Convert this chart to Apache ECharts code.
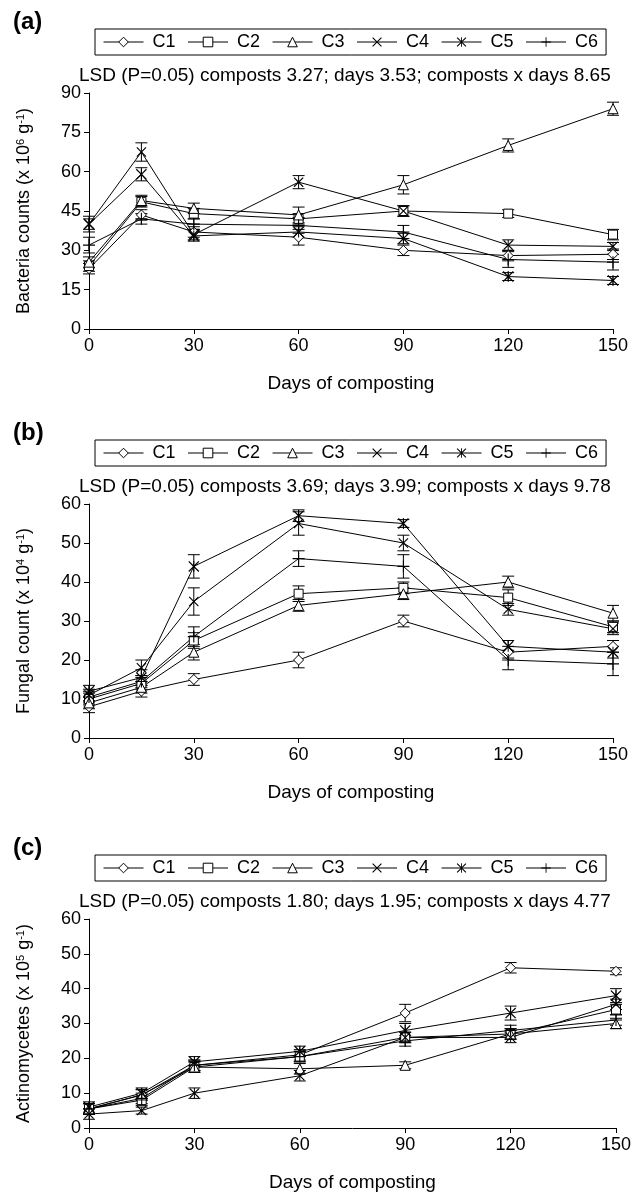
<!DOCTYPE html>
<html>
<head>
<meta charset="utf-8">
<script src="https://cdn.jsdelivr.net/npm/echarts@6/dist/echarts.min.js"></script>
<style>
  body { margin: 0; background: #fff; }
  #chart { width: 640px; height: 1194px; }
</style>
</head>
<body>
<div id="chart"></div>
<script>
// data
const days = [0, 15, 30, 60, 90, 120, 150];
const composts = ['C1', 'C2', 'C3', 'C4', 'C5', 'C6'];

// (a) bacteria counts, x 10^6 g-1
const bacteria = [
  [23, 43.5, 37, 35, 30, 28, 28.5],
  [24, 48.5, 44, 42, 45, 44, 36],
  [25.5, 49, 46, 43.5, 55, 70, 84],
  [40, 67.5, 36, 56, 45, 32, 31.5],
  [40, 59, 35.5, 37, 34.5, 20, 18.5],
  [32, 42, 40, 39.5, 37, 26.5, 25.5]
];
const bacteriaErr = [
  [2, 2, 2, 3, 2, 2, 2],
  [2, 2, 2, 2, 2, 1.5, 2],
  [2, 2, 2, 3, 3.5, 2.5, 2.5],
  [3, 3.5, 2, 2.5, 2, 2, 1.5],
  [2, 2.5, 2, 2, 2, 1.5, 1.5],
  [3, 2, 2, 3, 2.5, 3, 3]
];

// (b) fungal count, x 10^4 g-1
const fungi = [
  [8, 12, 15, 20, 30, 22, 23.5],
  [10, 14, 25, 37, 38.5, 36, 28.5],
  [9, 13, 22, 34, 37, 40, 32],
  [11, 18, 35, 55, 50, 33, 28],
  [12, 15.5, 44, 57, 55, 23.5, 22],
  [10.5, 14.5, 26, 46, 44, 20, 19]
];
const fungiErr = [
  [1.5, 1.5, 1.5, 2, 1.5, 1.5, 1.5],
  [1.5, 1.5, 2, 2, 1.5, 2, 1.5],
  [1.5, 1.5, 2, 1.5, 1.5, 1.5, 2],
  [1.5, 2, 3.5, 3, 2, 1.5, 1.5],
  [1.5, 2, 3, 1.5, 1, 1.5, 1.5],
  [1.5, 1.5, 2.5, 2, 3, 2.5, 3]
];

// (c) actinomycetes, x 10^5 g-1
const actino = [
  [5.5, 9.5, 18, 21, 33, 46, 45],
  [5.5, 8, 17.5, 20.5, 26, 27, 34],
  [5.5, 9.5, 17.5, 17, 18, 27, 30],
  [4, 5, 10, 15, 26, 26, 35.5],
  [6, 10, 19, 22, 28, 33, 38],
  [5.5, 8.5, 18, 20.5, 25, 28, 31]
];
const actinoErr = [
  [1.5, 1.5, 1.5, 1.5, 2.5, 1.5, 1],
  [1.5, 1.5, 1.5, 1.5, 1.5, 1.5, 1.5],
  [1.5, 1.5, 1.5, 1.5, 1, 1.5, 1.5],
  [1.5, 1, 1.5, 1.5, 1.5, 1.5, 1.5],
  [1.5, 1.5, 1.5, 1.5, 2, 2, 2],
  [1.5, 1.5, 1.5, 1.5, 1.5, 1.5, 1.5]
];

const lsdText = [
  'LSD (P=0.05) composts 3.27; days 3.53; composts x days 8.65',
  'LSD (P=0.05) composts 3.69; days 3.99; composts x days 9.78',
  'LSD (P=0.05) composts 1.80; days 1.95; composts x days 4.77'
];
const yNames = [
  'Bacteria counts (x 10{s|6} g{s|-1})',
  'Fungal count (x 10{s|4} g{s|-1})',
  'Actinomycetes (x 10{s|5} g{s|-1})'
];
const yMax = [90, 60, 60];
const yStep = [15, 10, 10];
const panels = [bacteria, fungi, actino];
const panelErr = [bacteriaErr, fungiErr, actinoErr];

const FONT = '"Liberation Sans", Arial, sans-serif';

// open markers + line-drawn markers
const X_PATH = 'path://M0,0.8 L0.8,0 L5,4.2 L9.2,0 L10,0.8 L5.8,5 L10,9.2 L9.2,10 L5,5.8 L0.8,10 L0,9.2 L4.2,5 Z';
const STAR_PATH = 'path://M0,0.8 L0.8,0 L5,4.2 L9.2,0 L10,0.8 L5.8,5 L10,9.2 L9.2,10 L5,5.8 L0.8,10 L0,9.2 L4.2,5 Z M4.55,0 L5.45,0 L5.45,10 L4.55,10 Z';
const PLUS_PATH = 'path://M4.55,0 L5.45,0 L5.45,4.55 L10,4.55 L10,5.45 L5.45,5.45 L5.45,10 L4.55,10 L4.55,5.45 L0,5.45 L0,4.55 L4.55,4.55 Z';
const symbols = ['diamond', 'rect', 'triangle', X_PATH, STAR_PATH, PLUS_PATH];
const symbolSizes = [10, 9, 10, 10, 11, 12];
const openSymbol = [true, true, true, false, false, false];

const gridTop = [93, 504, 919];
const gridH = [236, 234, 209];
const gridW = [524, 524, 527];

function errorBar(params, api) {
  const x = api.value(0);
  const y = api.value(1);
  const e = api.value(2);
  const hi = api.coord([x, y + e]);
  const lo = api.coord([x, y - e]);
  const w = 6;
  const style = { stroke: '#000', lineWidth: 1 };
  return {
    type: 'group',
    children: [
      { type: 'line', shape: { x1: hi[0], y1: hi[1], x2: lo[0], y2: lo[1] }, style: style },
      { type: 'line', shape: { x1: hi[0] - w, y1: hi[1], x2: hi[0] + w, y2: hi[1] }, style: style },
      { type: 'line', shape: { x1: lo[0] - w, y1: lo[1], x2: lo[0] + w, y2: lo[1] }, style: style }
    ]
  };
}

const grids = [];
const xAxes = [];
const yAxes = [];
const titles = [];
const legends = [];
const series = [];

['(a)', '(b)', '(c)'].forEach((label, p) => {
  const top = gridTop[p];
  grids.push({ left: 89, top: top, width: gridW[p], height: gridH[p] });

  xAxes.push({
    gridIndex: p,
    type: 'value',
    min: 0,
    max: 150,
    interval: 30,
    name: 'Days of composting',
    nameLocation: 'middle',
    nameGap: 45,
    nameTextStyle: { fontSize: 19, color: '#000', fontFamily: FONT },
    axisLine: { lineStyle: { color: '#000', width: 1 } },
    axisTick: { length: 5, lineStyle: { color: '#000' } },
    axisLabel: { fontSize: 18, color: '#000', fontFamily: FONT, margin: 8 },
    splitLine: { show: false }
  });

  yAxes.push({
    gridIndex: p,
    type: 'value',
    min: 0,
    max: yMax[p],
    interval: yStep[p],
    name: yNames[p],
    nameLocation: 'middle',
    nameGap: 56,
    nameRotate: 90,
    nameTextStyle: {
      fontSize: 18, color: '#000', fontFamily: FONT,
      rich: { s: { fontSize: 11, color: '#000', fontFamily: FONT, verticalAlign: 'top' } }
    },
    axisLine: { show: true, lineStyle: { color: '#000', width: 1 } },
    axisTick: { show: true, length: 5, lineStyle: { color: '#000' } },
    axisLabel: { fontSize: 18, color: '#000', fontFamily: FONT, margin: 8 },
    splitLine: { show: false }
  });

  titles.push({
    text: label,
    left: 8,
    top: top - 88,
    textStyle: { fontSize: 24, fontWeight: 'bold', color: '#000', fontFamily: FONT }
  });
  titles.push({
    text: lsdText[p],
    left: 79,
    top: top - 27,
    padding: 0,
    textStyle: { fontSize: 19, fontWeight: 'normal', color: '#000', fontFamily: FONT }
  });

  legends.push({
    data: composts,
    left: 95,
    top: top - 64,
    orient: 'horizontal',
    itemWidth: 40,
    itemHeight: 12,
    itemGap: 12,
    padding: [4, 8],
    borderColor: '#000',
    borderWidth: 1,
    borderRadius: 0,
    selectedMode: false,
    lineStyle: { width: 1 },
    itemStyle: { borderWidth: 1 },
    textStyle: { fontSize: 18, color: '#000', fontFamily: FONT, padding: [0, 0, 0, 4] }
  });

  panels[p].forEach((vals, i) => {
    series.push({
      name: composts[i],
      type: 'line',
      xAxisIndex: p,
      yAxisIndex: p,
      data: days.map((d, k) => [d, vals[k]]),
      symbol: symbols[i],
      symbolSize: symbolSizes[i],
      symbolKeepAspect: true,
      showAllSymbol: true,
      lineStyle: { color: '#000', width: 1 },
      itemStyle: openSymbol[i]
        ? { color: '#fff', borderColor: '#000', borderWidth: 1 }
        : { color: '#000', borderWidth: 0 },
      emphasis: { disabled: true },
      animation: false,
      z: 3
    });
    series.push({
      type: 'custom',
      xAxisIndex: p,
      yAxisIndex: p,
      data: days.map((d, k) => [d, vals[k], panelErr[p][i][k]]),
      encode: { x: 0, y: 1 },
      renderItem: errorBar,
      animation: false,
      silent: true,
      z: 2
    });
  });
});

const chart = echarts.init(document.getElementById('chart'));
chart.setOption({
  backgroundColor: '#fff',
  animation: false,
  title: titles,
  legend: legends,
  grid: grids,
  xAxis: xAxes,
  yAxis: yAxes,
  series: series
});
</script>
</body>
</html>
